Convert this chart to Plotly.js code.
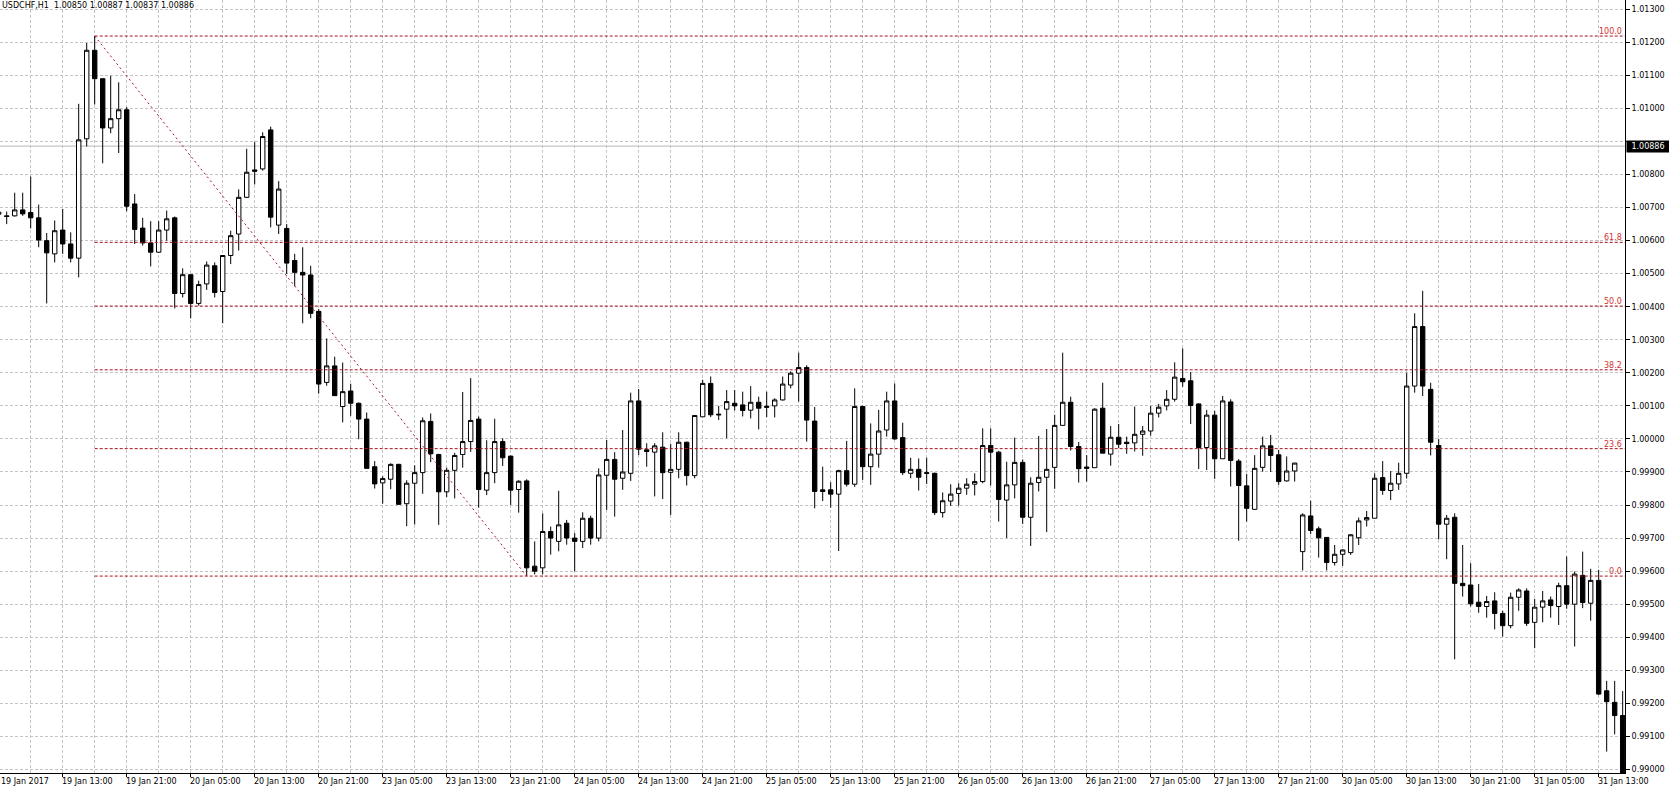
<!DOCTYPE html>
<html>
<head>
<meta charset="utf-8">
<script src="https://cdn.plot.ly/plotly-3.0.1.min.js"></script>
<style>
html,body{margin:0;padding:0;background:#fff;}
#chart{width:1669px;height:792px;}
</style>
</head>
<body>
<div id="chart"></div>
<script>
// ---- data (USDCHF H1, 19 Jan 05:00 .. 31 Jan 16:00) ----
const symbol = "USDCHF,H1";
const currentBar = [1.00850, 1.00887, 1.00837, 1.00886]; // O H L C of live bar

const open = [
1.00680,1.00675,1.00675,1.00693,1.00685,1.00669,1.00600,1.00560,1.00632,1.00590,
1.00547,1.00908,1.01176,1.01090,1.00941,1.00969,1.00996,1.00711,1.00638,1.00593,
1.00565,1.00632,1.00669,1.00440,1.00497,1.00410,1.00469,1.00524,1.00446,1.00555,
1.00620,1.00731,1.00814,1.00817,1.00935,1.00647,1.00637,1.00540,1.00504,1.00496,
1.00386,1.00171,1.00221,1.00098,1.00145,1.00108,1.00060,0.99916,0.99867,0.99878,
0.99923,0.99804,0.99866,0.99898,1.00053,0.99953,0.99840,0.99905,0.99953,0.99992,
1.00060,0.99845,0.99898,0.99992,0.99948,0.99847,0.99873,0.99615,0.99610,0.99720,
0.99690,0.99745,0.99700,0.99690,0.99760,0.99700,0.99890,0.99938,0.99881,0.99896,
1.00115,0.99967,0.99960,0.99975,0.99899,0.99908,0.99990,0.99889,1.00067,1.00168,
1.00075,1.00090,1.00108,1.00103,1.00087,1.00111,1.00099,1.00100,1.00118,1.00163,
1.00199,1.00216,1.00054,0.99846,0.99846,0.99833,0.99904,0.99863,1.00098,0.99916,
0.99954,1.00027,1.00115,1.00004,0.99896,0.99908,0.99898,0.99896,0.99777,0.99812,
0.99835,0.99851,0.99863,0.99871,0.99980,0.99960,0.99815,0.99861,0.99929,0.99763,
0.99868,0.99884,0.99914,1.00041,1.00111,0.99977,0.99915,0.99913,1.00093,0.99954,
1.00005,0.99990,0.99988,1.00014,1.00024,1.00078,1.00100,1.00120,1.00183,1.00176,
1.00106,0.99974,1.00072,0.99940,1.00112,0.99933,0.99858,0.99787,0.99914,0.99979,
0.99952,0.99873,0.99903,0.99659,0.99767,0.99728,0.99702,0.99626,0.99651,0.99656,
0.99701,0.99755,0.99760,0.99883,0.99844,0.99864,0.99896,1.00160,1.00340,1.00150,
0.99980,0.99742,0.99763,0.99563,0.99558,0.99506,0.99493,0.99510,0.99472,0.99435,
0.99521,0.99540,0.99445,0.99491,0.99513,0.99493,0.99556,0.99500,0.99587,0.99503,
0.99572,0.99238,0.99203,0.99163
];
const high = [
1.00692,1.00688,1.00745,1.00745,1.00794,1.00709,1.00623,1.00661,1.00696,1.00625,
1.01014,1.01198,1.01219,1.01090,1.01099,1.01079,1.01004,1.00741,1.00669,1.00659,
1.00659,1.00691,1.00673,1.00516,1.00497,1.00479,1.00537,1.00534,1.00555,1.00630,
1.00755,1.00878,1.00898,1.00928,1.00945,1.00780,1.00650,1.00560,1.00580,1.00524,
1.00393,1.00304,1.00249,1.00231,1.00167,1.00110,1.00080,0.99933,0.99887,0.99926,
0.99925,0.99875,0.99920,1.00065,1.00077,0.99955,0.99913,0.99958,1.00142,1.00184,
1.00068,0.99996,1.00061,1.00002,0.99950,0.99875,0.99878,0.99690,0.99775,0.99735,
0.99843,0.99755,0.99715,0.99778,0.99768,0.99911,0.99997,0.99960,1.00027,1.00140,
1.00151,0.99987,0.99987,1.00020,0.99985,1.00020,0.99992,1.00071,1.00179,1.00189,
1.00100,1.00148,1.00148,1.00143,1.00160,1.00128,1.00143,1.00123,1.00189,1.00204,
1.00261,1.00223,1.00097,0.99916,0.99869,0.99907,0.99994,1.00153,1.00101,1.00047,
1.00088,1.00143,1.00168,1.00049,0.99943,0.99941,0.99943,0.99898,0.99838,0.99863,
0.99866,0.99881,0.99896,1.00032,1.00032,0.99964,0.99931,1.00004,0.99938,0.99884,
1.00009,1.00030,1.00073,1.00261,1.00128,0.99991,0.99951,1.00093,1.00170,1.00039,
1.00045,1.00007,1.00098,1.00039,1.00100,1.00106,1.00148,1.00232,1.00274,1.00202,
1.00107,1.00088,1.00085,1.00130,1.00120,0.99939,0.99894,0.99951,1.00007,1.00012,
0.99967,0.99947,0.99927,0.99775,0.99813,0.99735,0.99702,0.99679,0.99666,0.99712,
0.99762,0.99782,0.99896,0.99933,0.99903,0.99928,1.00200,1.00380,1.00448,1.00170,
1.00000,0.99770,0.99775,0.99679,0.99624,0.99561,0.99525,0.99536,0.99480,0.99535,
0.99548,0.99548,0.99516,0.99540,0.99523,0.99565,0.99644,0.99599,0.99659,0.99607,
0.99604,0.99268,0.99268,0.99237
];
const low = [
1.00662,1.00650,1.00673,1.00675,1.00637,1.00580,1.00410,1.00534,1.00560,1.00534,
1.00489,1.00885,1.01012,1.00834,1.00925,1.00865,1.00689,1.00590,1.00585,1.00522,
1.00563,1.00600,1.00395,1.00428,1.00365,1.00403,1.00451,1.00428,1.00350,1.00529,
1.00570,1.00729,1.00770,1.00812,1.00640,1.00620,1.00499,1.00462,1.00350,1.00365,
1.00137,1.00161,1.00131,1.00050,1.00070,0.99999,0.99911,0.99850,0.99804,0.99848,
0.99802,0.99736,0.99741,0.99834,0.99930,0.99740,0.99824,0.99820,0.99913,0.99961,
0.99792,0.99830,0.99866,0.99918,0.99800,0.99777,0.99585,0.99590,0.99590,0.99650,
0.99660,0.99680,0.99600,0.99670,0.99680,0.99690,0.99785,0.99765,0.99846,0.99873,
0.99951,0.99916,0.99826,0.99818,0.99770,0.99881,0.99859,0.99881,1.00067,1.00066,
1.00057,1.00002,1.00086,1.00068,1.00062,1.00029,1.00066,1.00065,1.00116,1.00153,
1.00113,0.99992,0.99790,0.99812,0.99792,0.99661,0.99856,0.99855,0.99876,0.99861,
0.99913,1.00007,0.99997,0.99891,0.99881,0.99844,0.99864,0.99770,0.99762,0.99797,
0.99798,0.99831,0.99829,0.99866,0.99859,0.99750,0.99700,0.99820,0.99743,0.99676,
0.99841,0.99718,0.99849,1.00041,0.99965,0.99868,0.99871,0.99913,0.99957,0.99919,
0.99972,0.99955,0.99962,0.99949,1.00010,1.00065,1.00086,1.00113,1.00158,1.00045,
0.99909,0.99906,0.99879,0.99940,0.99856,0.99692,0.99750,0.99787,0.99901,0.99900,
0.99861,0.99871,0.99871,0.99602,0.99712,0.99641,0.99602,0.99617,0.99616,0.99649,
0.99679,0.99735,0.99760,0.99831,0.99815,0.99846,0.99880,1.00140,1.00130,0.99950,
0.99696,0.99636,0.99333,0.99523,0.99493,0.99474,0.99459,0.99424,0.99402,0.99427,
0.99480,0.99434,0.99367,0.99445,0.99459,0.99437,0.99486,0.99372,0.99488,0.99450,
0.99225,0.99054,0.99106,0.98930
];
const close = [
1.00686,1.00673,1.00693,1.00681,1.00669,1.00602,1.00563,1.00630,1.00590,1.00547,
1.00905,1.01176,1.01090,1.00941,1.00969,1.00996,1.00704,1.00634,1.00593,1.00565,
1.00632,1.00666,1.00440,1.00497,1.00410,1.00467,1.00526,1.00443,1.00555,1.00615,
1.00731,1.00807,1.00810,1.00915,1.00671,1.00756,1.00532,1.00504,1.00496,1.00380,
1.00166,1.00221,1.00131,1.00143,1.00108,1.00060,0.99911,0.99864,0.99880,0.99923,
0.99802,0.99866,0.99898,1.00055,0.99955,0.99840,0.99905,0.99950,0.99992,1.00056,
0.99847,0.99898,0.99992,0.99943,0.99845,0.99872,0.99610,0.99600,0.99720,0.99700,
0.99740,0.99700,0.99690,0.99760,0.99700,0.99891,0.99938,0.99878,0.99900,1.00115,
0.99969,0.99962,0.99979,0.99898,0.99908,0.99990,0.99889,1.00071,1.00168,1.00073,
1.00073,1.00113,1.00100,1.00086,1.00111,1.00093,1.00096,1.00118,1.00166,1.00199,
1.00216,1.00057,0.99841,0.99841,0.99833,0.99904,0.99863,1.00098,0.99916,0.99954,
1.00024,1.00115,1.00000,0.99898,0.99908,0.99884,0.99896,0.99777,0.99813,0.99833,
0.99851,0.99863,0.99871,0.99980,0.99960,0.99817,0.99861,0.99929,0.99763,0.99866,
0.99884,0.99908,1.00041,1.00111,0.99977,0.99910,0.99911,1.00090,0.99957,1.00005,
0.99984,0.99986,1.00014,1.00024,1.00078,1.00096,1.00120,1.00187,1.00173,1.00101,
0.99974,1.00072,0.99940,1.00115,0.99935,0.99859,0.99790,0.99911,0.99979,0.99950,
0.99871,0.99903,0.99927,0.99770,0.99723,0.99701,0.99626,0.99651,0.99664,0.99710,
0.99752,0.99762,0.99881,0.99844,0.99866,0.99896,1.00160,1.00340,1.00160,0.99990,
0.99742,0.99760,0.99563,0.99556,0.99501,0.99493,0.99508,0.99472,0.99435,0.99521,
0.99543,0.99442,0.99491,0.99510,0.99496,0.99556,0.99500,0.99591,0.99505,0.99572,
0.99228,0.99205,0.99163,0.98950
];

// time-axis labels (every 8th bar)
const tickBars = [0,8,16,24,32,40,48,56,64,72,80,88,96,104,112,120,128,136,144,152,160,168,176,184,192,200];
const tickLabels = ["19 Jan 2017","19 Jan 13:00","19 Jan 21:00","20 Jan 05:00","20 Jan 13:00","20 Jan 21:00",
  "23 Jan 05:00","23 Jan 13:00","23 Jan 21:00","24 Jan 05:00","24 Jan 13:00","24 Jan 21:00",
  "25 Jan 05:00","25 Jan 13:00","25 Jan 21:00","26 Jan 05:00","26 Jan 13:00","26 Jan 21:00",
  "27 Jan 05:00","27 Jan 13:00","27 Jan 21:00","30 Jan 05:00","30 Jan 13:00","30 Jan 21:00",
  "31 Jan 05:00","31 Jan 13:00"];

// price-axis labels
const priceTicks = [0.990,0.991,0.992,0.993,0.994,0.995,0.996,0.997,0.998,0.999,1.000,
  1.001,1.002,1.003,1.004,1.005,1.006,1.007,1.008,1.009,1.010,1.011,1.012,1.013];

// Fibonacci retracement (drawn from swing high bar to swing low bar)
const fibLevels = [0.0, 23.6, 38.2, 50.0, 61.8, 100.0];
const fibHighBar = 12;
const fibLowBar = 66;

// ---- build ----
const bars = open.map((_, i) => i);
const xRange = [0.1625, 203.29];
const yRange = [0.989892, 1.013281];
const font = "DejaVu Sans, Verdana, sans-serif";
const fibLineColor = "#a8141e";
const fibTextColor = "#d23232";
const gridColor = "#c4c4c4";

const fibHigh = high[fibHighBar];
const fibLow = low[fibLowBar];
const cur = currentBar[3];

const shapes = [];
const annotations = [];

fibLevels.forEach(lv => {
  const p = fibLow + (fibHigh - fibLow) * lv / 100;
  shapes.push({type:'line', xref:'x', yref:'y', x0:fibHighBar, x1:xRange[1], y0:p, y1:p,
    line:{color:fibLineColor, width:1, dash:'3px,2px'}, layer:'above'});
  annotations.push({xref:'paper', yref:'y', x:1, y:p, xanchor:'right', yanchor:'bottom',
    text:lv.toFixed(1), showarrow:false, xshift:-1, yshift:-2,
    font:{family:font, size:8, color:fibTextColor}});
});
shapes.push({type:'line', xref:'x', yref:'y', x0:fibHighBar, y0:fibHigh, x1:fibLowBar, y1:fibLow,
  line:{color:fibLineColor, width:1, dash:'2px,3px'}, layer:'above'});

// current price line + box
shapes.push({type:'line', xref:'paper', yref:'y', x0:0, x1:1, y0:cur, y1:cur,
  line:{color:'#b8b8b8', width:1}, layer:'below'});
annotations.push({xref:'paper', yref:'y', x:1, y:cur, xanchor:'left', yanchor:'middle',
  text:cur.toFixed(5), showarrow:false, xshift:1, bgcolor:'#000', width:40, height:9, borderpad:1,
  font:{family:font, size:8, color:'#fff'}});

// title
annotations.push({xref:'paper', yref:'paper', x:0, y:1, xanchor:'left', yanchor:'top',
  text: symbol + '\u00a0\u00a0' + currentBar.map(v => v.toFixed(5)).join(' '),
  showarrow:false, xshift:0, yshift:1, font:{family:font, size:8, color:'#000'}});

// time labels (left aligned at their bar, as the terminal draws them)
const span = xRange[1] - xRange[0];
tickBars.forEach((b, i) => {
  annotations.push({xref:'paper', yref:'paper', x:Math.max(0, (b - xRange[0]) / span), y:0,
    xanchor:'left', yanchor:'top',
    text:tickLabels[i], showarrow:false, xshift:(b < xRange[0] ? -1 : -3), yshift:-2,
    font:{family:font, size:8, color:'#000'}});
});

// the live price box hides the label underneath it
const priceText = priceTicks.map(v => (Math.abs(v - cur) < 0.0003 ? '' : v.toFixed(5)));

const trace = {
  type:'candlestick', x:bars, open:open, high:high, low:low, close:close,
  increasing:{line:{color:'#000', width:1}, fillcolor:'#ffffff'},
  decreasing:{line:{color:'#000', width:1}, fillcolor:'#000000'},
  whiskerwidth:0, hoverinfo:'skip', showlegend:false
};

const layout = {
  width:1669, height:792,
  margin:{l:0, r:44, t:0, b:19, pad:0},
  paper_bgcolor:'#fff', plot_bgcolor:'#fff',
  font:{family:font, size:8, color:'#000'},
  showlegend:false,
  boxgap:0.45, boxgroupgap:0,
  xaxis:{
    type:'linear', range:xRange, autorange:false, fixedrange:true,
    rangeslider:{visible:false},
    tickmode:'array', tickvals:tickBars, showticklabels:false,
    ticks:'outside', ticklen:3, tickcolor:'#000', tickwidth:1,
    showgrid:true, gridcolor:gridColor, griddash:'3px,2px', gridwidth:1,
    minor:{tickmode:'linear', tick0:0, dtick:4, showgrid:true, gridcolor:gridColor, griddash:'3px,2px', gridwidth:1, ticks:''},
    zeroline:false, showline:true, linecolor:'#000', linewidth:1
  },
  yaxis:{
    side:'right', range:yRange, autorange:false, fixedrange:true,
    tickmode:'array', tickvals:priceTicks, ticktext:priceText,
    ticks:'outside', ticklen:4, tickcolor:'#000', tickwidth:1,
    tickfont:{family:font, size:8, color:'#000'},
    showgrid:true, gridcolor:gridColor, griddash:'3px,2px', gridwidth:1,
    zeroline:false, showline:true, linecolor:'#000', linewidth:1
  },
  shapes:shapes,
  annotations:annotations
};

Plotly.newPlot('chart', [trace], layout, {staticPlot:true, displayModeBar:false});
</script>
</body>
</html>
